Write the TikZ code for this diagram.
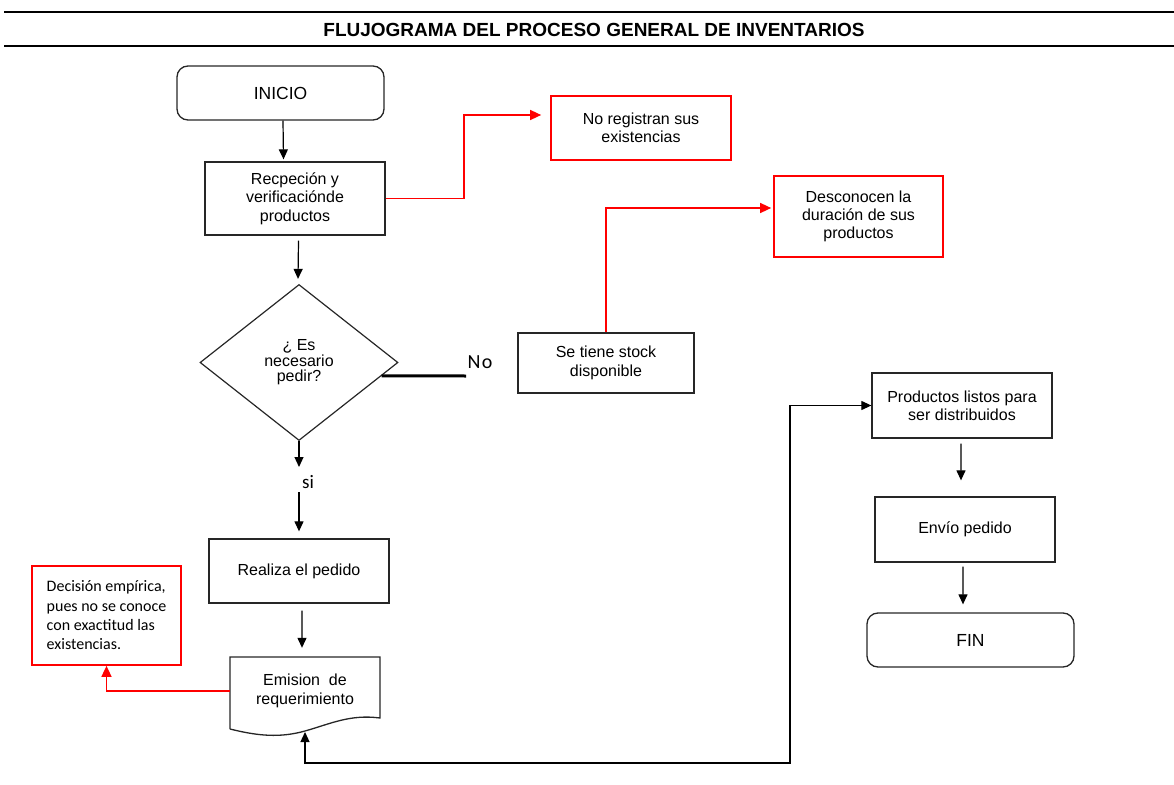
\documentclass[tikz,border=0pt]{standalone}
\usepackage{fontspec}
\setmainfont{Liberation Sans}
\newfontfamily\carlito{Carlito}
\usetikzlibrary{arrows.meta,shapes.geometric,calc}

\begin{document}
\begin{tikzpicture}[x=1bp,y=-1bp,
  every node/.style={font=\fontsize{16bp}{18.3bp}\selectfont, align=center, inner sep=0pt, text=black},
  pbox/.style={draw=black!85, line width=1.3bp, rectangle},
  notebox/.style={draw=red, line width=1.7bp, rectangle},
  term/.style={draw=black!85, line width=1.3bp, rectangle, rounded corners=11bp,
               font=\fontsize{17.5bp}{20bp}\selectfont},
  arr/.style={draw=black, line width=1.2bp, -{Triangle[length=10bp,width=9bp]}},
  redarr/.style={draw=red, line width=1.5bp, -{Triangle[length=11bp,width=10bp]}},
  lbl/.style={font=\carlito\fontsize{19bp}{20bp}\selectfont}
]
\useasboundingbox (0,0) rectangle (1174,785);

% header rules and title
\coordinate (ruleTL) at (4,12);
\coordinate (ruleTR) at (1174,12);
\coordinate (ruleBL) at (4,46);
\coordinate (ruleBR) at (1174,46);
\draw[line width=1.6bp] (ruleTL) -- (ruleTR);
\draw[line width=2.6bp] (ruleBL) -- (ruleBR);
\node[font=\bfseries\fontsize{19bp}{20bp}\selectfont] (title) at (594,30)
  {FLUJOGRAMA DEL PROCESO GENERAL DE INVENTARIOS};

% main flow, left column
\node[term, minimum width=207bp, minimum height=54bp] (inicio) at (280.5,93) {INICIO};
\node[pbox, minimum width=180bp, minimum height=73bp] (recep) at (295,198.5)
  {Recpeción y\\verificaciónde\\productos};
\node[draw=black!85, line width=1.2bp, diamond, minimum width=198bp, minimum height=156bp,
      font=\fontsize{16bp}{15.5bp}\selectfont] (dia) at (299,362.5)
  {¿ Es\\necesario\\pedir?};
\node[lbl, font=\carlito\fontsize{20bp}{20bp}\selectfont] (nolbl) at (480,362) {N\kern1.5bp o};
\node[lbl] (silbl) at (308,482) {si};
\node[pbox, minimum width=180bp, minimum height=64bp] (realiza) at (299,571) {Realiza el pedido};
\node[minimum width=150bp, minimum height=72bp] (emision) at (305,691)
  {Emision \ de\\requerimiento};
\draw[draw=black!85, line width=1.3bp]
  (230,729) -- (230,657) -- (380,657) -- (380,718)
  .. controls (350,714) and (330,724) .. (305,731)
  .. controls (280,738) and (258,736) .. (230,729);
\coordinate (emisionbottom) at (305,732);

% notes in red
\node[notebox, minimum width=180bp, minimum height=64bp] (noreg) at (641,128)
  {No registran sus\\existencias};
\node[notebox, minimum width=169bp, minimum height=81bp] (desc) at (858.5,216.5)
  {Desconocen la\\duración de sus\\productos};
\node[notebox, minimum width=149bp, minimum height=99bp, align=left,
      font=\carlito\fontsize{16bp}{19.3bp}\selectfont] (decision) at (106.5,615.5)
  {Decisión empírica,\\pues no se conoce\\con exactitud las\\existencias.};

% stock branch
\node[pbox, minimum width=176bp, minimum height=60bp] (stock) at (606,363)
  {Se tiene stock\\disponible};

% right column
\node[pbox, minimum width=180bp, minimum height=65bp] (prod) at (962,405.5)
  {Productos listos para\\ser distribuidos};
\node[pbox, minimum width=180bp, minimum height=65bp] (envio) at (965,529.5) {Envío pedido};
\node[term, minimum width=207bp, minimum height=54bp] (fin) at (970.5,640) {FIN};

% connectors of the main flow
\draw[arr] ([xshift=2.5bp]inicio.south) -- ([xshift=-11.5bp,yshift=2bp]recep.north);
\draw[arr] ([xshift=3.5bp,yshift=-5bp]recep.south) -- ([xshift=-1bp,yshift=5bp]dia.north);
\coordinate (siTop) at (299,467);
\coordinate (siBottom) at (299,492);
\draw[arr] (dia.south) -- (siTop);
\draw[arr] (siBottom) -- ([yshift=7bp]realiza.north);
\draw[arr] ([xshift=3bp,yshift=-7bp]realiza.south) -- ([xshift=-3bp,yshift=7bp]emision.north);
\coordinate (noend) at (466,376);
\draw[line width=3bp] ($(dia.east)!0.17!(dia.south)$) -- (noend);

% loop to the distribution stage
\coordinate (loopA) at (305,763);
\coordinate (loopB) at (790,763);
\draw[arr, {Triangle[length=10bp,width=9bp]}-{Triangle[length=10bp,width=9bp]}]
  (emisionbottom) -- (loopA) -- (loopB) |- (prod.west);
\draw[arr] ([xshift=-1bp,yshift=-5bp]prod.south) -- ([xshift=-4bp,yshift=16bp]envio.north);
\draw[arr] ([xshift=-2bp,yshift=-4bp]envio.south) -- ([xshift=-7.5bp,yshift=8bp]fin.north);

% red connectors to the notes
\coordinate (bendA) at (464,198.5);
\draw[redarr] (recep.east) -- (bendA) |- ([xshift=-9bp,yshift=13bp]noreg.west);
\draw[redarr] (stock.north) |- ([xshift=-2bp,yshift=8.5bp]desc.west);
\draw[redarr] (emision.west) -| (decision.south);

\end{tikzpicture}
\end{document}
